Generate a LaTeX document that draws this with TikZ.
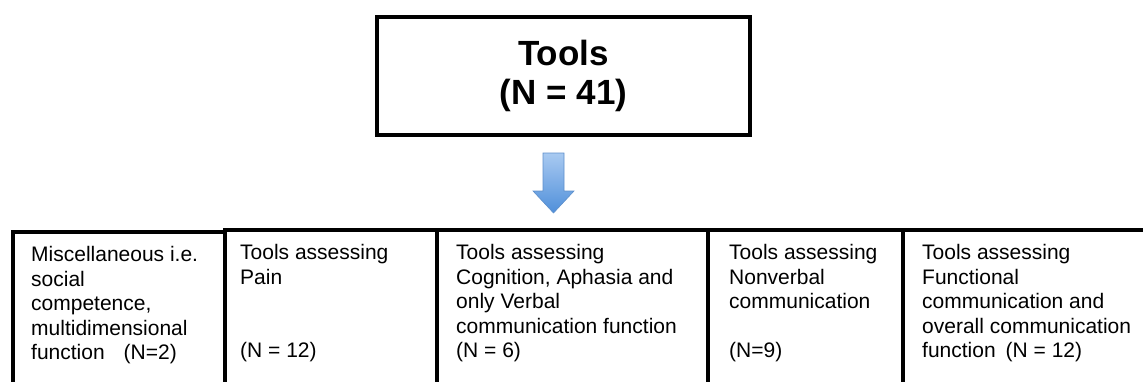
\documentclass[tikz,border=0pt]{standalone}
\usepackage{fontspec}
\setmainfont{Liberation Sans}
\usetikzlibrary{positioning}
\definecolor{arrowtop}{HTML}{A9CAF1}
\definecolor{arrowbottom}{HTML}{4F8FDA}
\definecolor{arrowedge}{HTML}{5D8FCB}

\begin{document}
\begin{tikzpicture}[x=1pt, y=1pt]
    \tikzset{
        topbox/.style = {rectangle, draw, line width=4.5pt, minimum width=373pt, minimum height=118pt, align=center, font=\fontsize{35}{38.5}\selectfont\bfseries},
        cell/.style = {rectangle, draw, line width=4pt, outer sep=0pt, anchor=north west, minimum height=200pt},
        celltext/.style = {anchor=north west, inner sep=0pt, align=left, font=\fontsize{21}{24.4}\selectfont},
        bluearrow/.style = {draw=arrowedge, line width=0.6pt, top color=arrowtop, bottom color=arrowbottom},
    }
    \clip (0,0) rectangle (1143,-381);

    \node [topbox] (tools) at (563.5,-76) {Tools\\(N = 41)};

    % block arrow
    \coordinate (tip) at (553.5,-213);
    \draw [bluearrow] ([xshift=-10.5pt,yshift=60pt]tip) -- ([xshift=10.5pt,yshift=60pt]tip)
        -- ([xshift=10.5pt,yshift=22pt]tip) -- ([xshift=20.5pt,yshift=22pt]tip) -- (tip)
        -- ([xshift=-20.5pt,yshift=22pt]tip) -- ([xshift=-10.5pt,yshift=22pt]tip) -- cycle;

    \node [cell, minimum width=212.5pt] (misc) at (12.5,-232) {};
    \node [cell, minimum width=212pt] (pain) at ([yshift=2pt]misc.north east) {};
    \node [cell, minimum width=271pt] (cog) at (pain.north east) {};
    \node [cell, minimum width=195pt] (nonverbal) at (cog.north east) {};
    \node [cell, minimum width=243pt] (functional) at (nonverbal.north east) {};

    \node [celltext] (misctext) at ([shift={(18.5,-14.5)}]misc.north west)
        {Miscellaneous i.e.\\social\\competence,\\multidimensional\\function\hspace{19pt}(N=2)};
    \node [celltext] (paintext) at ([shift={(15,-14.5)}]pain.north west)
        {Tools assessing\\Pain\\\mbox{}\\\mbox{}\\(N = 12)};
    \node [celltext] (cogtext) at ([shift={(19,-14.5)}]cog.north west)
        {Tools assessing\\Cognition, Aphasia and\\only Verbal\\communication function\\(N = 6)};
    \node [celltext] (nonverbaltext) at ([shift={(21,-14.5)}]nonverbal.north west)
        {Tools assessing\\Nonverbal\\communication\\\mbox{}\\(N=9)};
    \node [celltext] (functionaltext) at ([shift={(19,-14.5)}]functional.north west)
        {Tools assessing\\Functional\\communication and\\overall communication\\function\hspace{10pt}(N = 12)};
\end{tikzpicture}
\end{document}
